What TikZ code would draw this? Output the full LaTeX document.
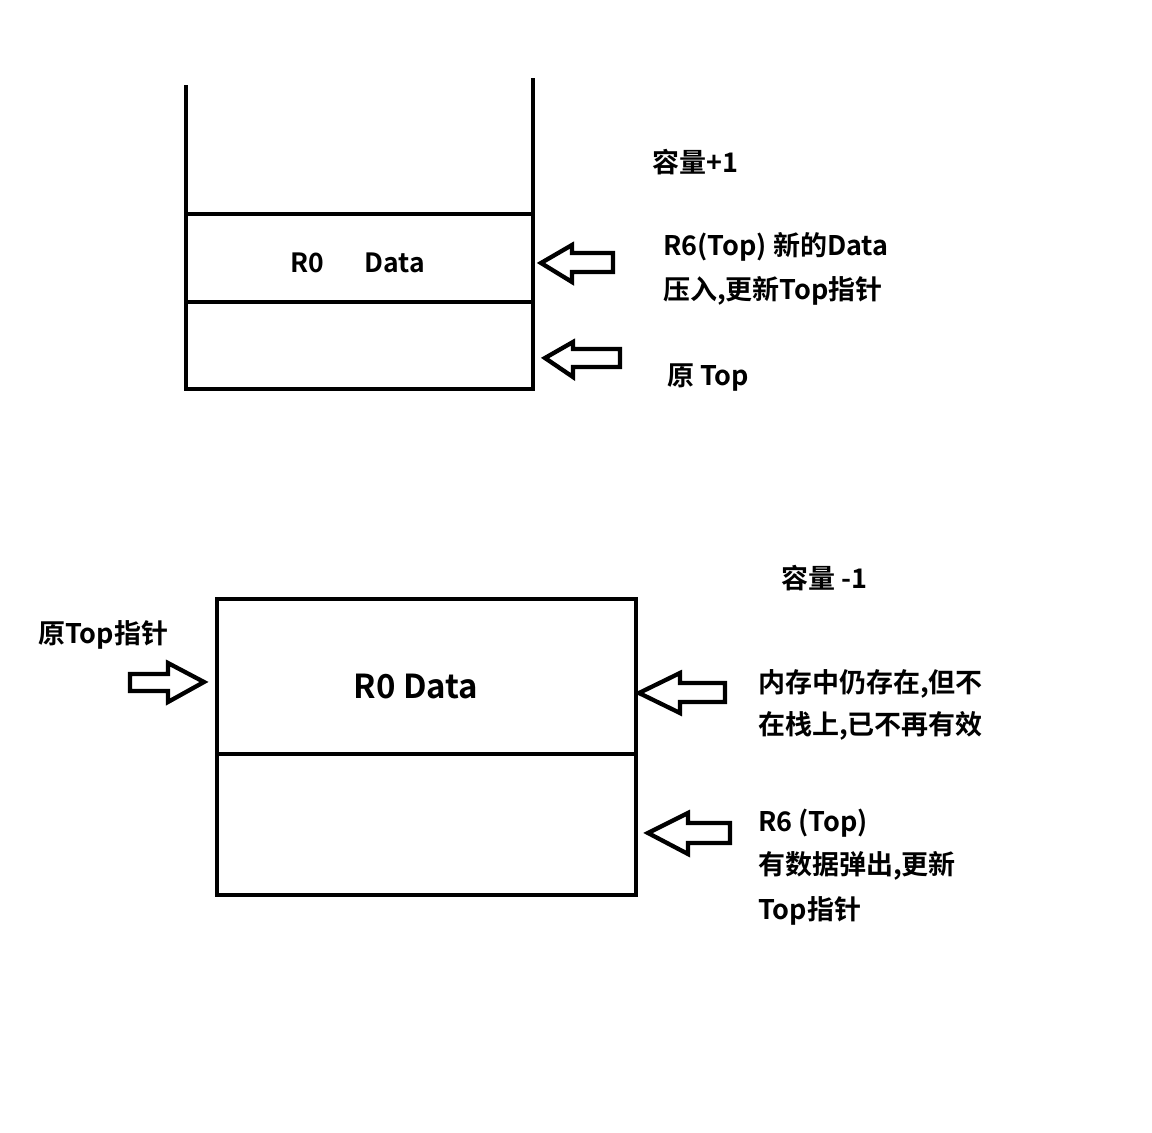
\documentclass[tikz,border=0pt]{standalone}
\usepackage{fontspec}
\setmainfont{Noto Sans CJK SC}[BoldFont={Noto Sans CJK SC Bold}]
\begin{document}
\begin{tikzpicture}[x=1pt,y=-1pt,
  wall/.style={line width=4.7pt, line join=miter},
  blockarrow/.style={line width=4.3pt, line join=miter, fill=white},
  lbl/.style={anchor=base west, inner sep=0pt, font=\fontsize{27}{31}\selectfont\bfseries},
  cell/.style={anchor=base, inner sep=0pt, font=\fontsize{26.5}{30}\selectfont\bfseries},
  bigcell/.style={anchor=base, inner sep=0pt, font=\fontsize{33}{38}\selectfont\bfseries}]
\useasboundingbox (0,0) rectangle (1152,1133);
% top stack
\draw[wall] (186,85) -- (186,389) -- (533,389) -- (533,78);
\draw[wall] (186,214) -- (533,214);
\draw[wall] (186,302) -- (533,302);
\node[cell] (r0) at (307,272) {R0};
\node[cell] (d0) at (395,272) {Data};
\draw[blockarrow] (541,263) -- (572,245) -- (572,253) -- (613,253) -- (613,272) -- (572,272) -- (572,282) -- cycle;
\draw[blockarrow] (545,358) -- (573,342) -- (573,349) -- (620,349) -- (620,367) -- (573,367) -- (573,377) -- cycle;
\node[lbl] (cap1) at (652,172) {容量+1};
\node[lbl] (t1) at (663,255) {R6(Top) 新的Data};
\node[lbl] (t2) at (663,299) {压入,更新Top指针};
\node[lbl] (t3) at (667,385) {原 Top};
% bottom stack
\draw[wall] (217,599) rectangle (636,895);
\draw[wall] (217,754) -- (636,754);
\node[bigcell] (r0b) at (416,698) {R0 Data};
\draw[blockarrow] (204,682) -- (168,663) -- (168,674) -- (130,674) -- (130,691) -- (168,691) -- (168,702) -- cycle;
\draw[blockarrow] (639,693) -- (680,673) -- (680,683) -- (725,683) -- (725,702) -- (680,702) -- (680,713) -- cycle;
\draw[blockarrow] (648,833) -- (688,813) -- (688,823) -- (730,823) -- (730,843) -- (688,843) -- (688,854) -- cycle;
\node[lbl] (cap2) at (781,588) {容量 -1};
\node[lbl] (old) at (38,643) {原Top指针};
\node[lbl] (b1) at (758,692) {内存中仍存在,但不};
\node[lbl] (b2) at (758,734) {在栈上,已不再有效};
\node[lbl] (b3) at (758,831) {R6 (Top)};
\node[lbl] (b4) at (758,874) {有数据弹出,更新};
\node[lbl] (b5) at (758,919) {Top指针};
\end{tikzpicture}
\end{document}
